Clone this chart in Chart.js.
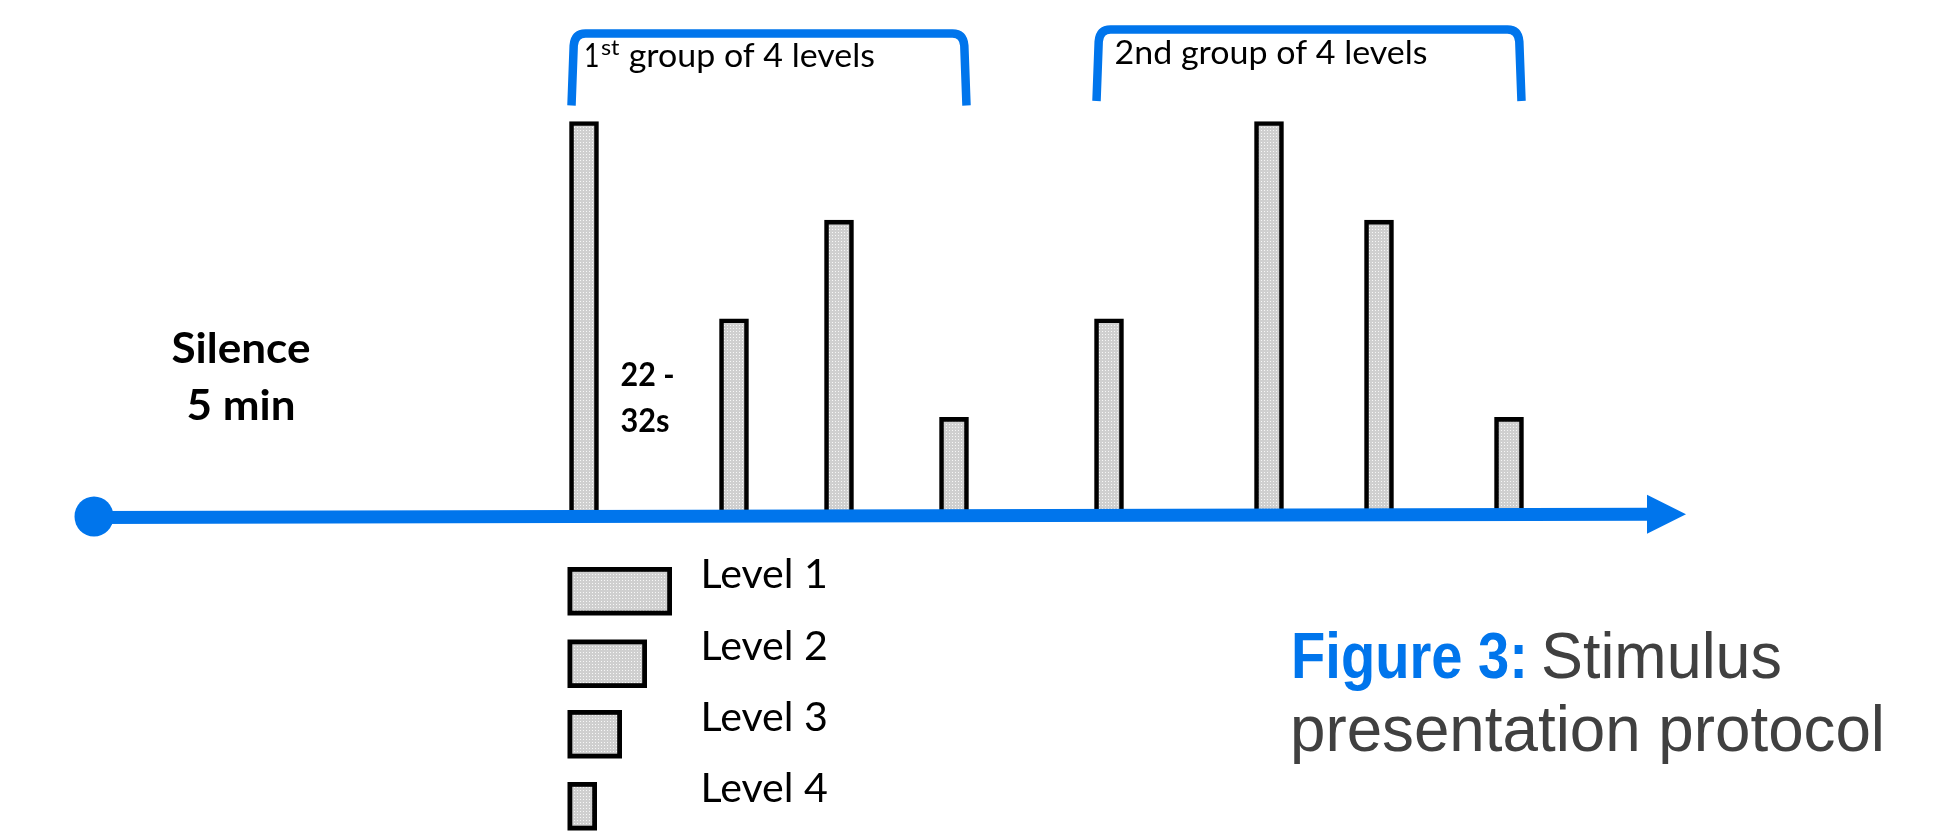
<!DOCTYPE html>
<html>
<head>
<meta charset="utf-8">
<script src="https://cdn.jsdelivr.net/npm/chart.js@4.4.1/dist/chart.umd.min.js"></script>
<style>
  html, body { margin: 0; padding: 0; background: #fff; overflow: hidden; }
  #wrap { width: 1939px; height: 833px; position: relative; }
</style>
</head>
<body>
<div id="wrap"><canvas id="c" width="1939" height="833"></canvas></div>
<script>
// Stimulus onsets in seconds, relative to the first stimulus (ISI 22-32 s)
const onsets = [0, 30, 51, 74, 105, 137, 159, 185];
// Level presented at each onset (1 = loudest)
const stimulusLevels = [1, 3, 2, 4, 3, 1, 2, 4];
// Relative intensity drawn for each level
const levelNames = ['Level 1', 'Level 2', 'Level 3', 'Level 4'];
const levelIntensity = [4, 3, 2, 1];
// Grouping of the stimuli
const groupNames = [['1', 'st', ' group of 4 levels'], ['2nd group of 4 levels']];
const groupMembers = [[0, 1, 2, 3], [4, 5, 6, 7]];
// Timeline extent (s): baseline silence before the first stimulus, end of run
const timeRange = [-98, 220.4];
const silenceText = ['Silence', '5 min'];
const isiText = ['22 -', '32s'];
const captionHead = 'Figure 3:';
const captionBody = ['Stimulus', 'presentation protocol'];

const BLUE = '#0075EC';
const INK = '#000000';
const GREY_TEXT = '#404040';
const LABEL_FONT = 'Lato, "Open Sans", sans-serif';
const CAPTION_FONT = '"Liberation Sans", Arial, sans-serif';

const canvas = document.getElementById('c');
const ctx = canvas.getContext('2d');

// Dotted light-grey fill used by the bars and the legend swatches
function makeDotPattern() {
  const tile = document.createElement('canvas');
  tile.width = 3; tile.height = 3;
  const g = tile.getContext('2d');
  g.fillStyle = '#cfcfcf';
  g.fillRect(0, 0, 3, 3);
  g.fillStyle = '#f7f7f7';
  g.fillRect(1, 1, 1, 1);
  return ctx.createPattern(tile, 'repeat');
}
const dotFill = makeDotPattern();

// Draw text squeezed/stretched horizontally to a given width
function fitText(g, text, x, y, o) {
  g.save();
  g.font = `${o.weight || 'normal'} ${o.size}px ${o.family}`;
  g.fillStyle = o.color || INK;
  g.textAlign = 'left';
  g.textBaseline = 'alphabetic';
  const w = g.measureText(text).width;
  const sx = o.width ? o.width / w : 1;
  let left = x;
  if (o.align === 'center') left = x - (w * sx) / 2;
  g.translate(left, y);
  g.scale(sx, 1);
  g.fillText(text, 0, 0);
  g.restore();
  return w * sx;
}

const protocolPlugin = {
  id: 'protocol',
  afterDatasetsDraw(chart) {
    const g = chart.ctx;
    const xs = chart.scales.x, ys = chart.scales.y;
    const x0 = xs.getPixelForValue(timeRange[0]);
    const x1 = xs.getPixelForValue(timeRange[1]);
    const yBase = ys.getPixelForValue(0);

    // Timeline: start dot, shaft and arrow head
    const head = 39, halfHead = 19.5;
    const yStart = yBase + 1.5, yEnd = yBase - 1.8;
    g.save();
    g.strokeStyle = BLUE;
    g.fillStyle = BLUE;
    g.lineWidth = 13;
    g.lineCap = 'butt';
    g.beginPath();
    g.moveTo(x0, yStart);
    g.lineTo(x1 - head + 1, yEnd);
    g.stroke();
    g.beginPath();
    g.ellipse(x0, yStart - 1, 19.5, 20, 0, 0, Math.PI * 2);
    g.fill();
    g.beginPath();
    g.moveTo(x1 - head, yEnd - halfHead);
    g.lineTo(x1, yEnd);
    g.lineTo(x1 - head, yEnd + halfHead);
    g.closePath();
    g.fill();
    g.restore();
  },
  afterDraw(chart) {
    const g = chart.ctx;
    const bars = chart.getDatasetMeta(0).data;

    // Group brackets above the bars
    const bracketTop = [33.5, 29.5];
    const bracketBottom = [105.5, 101];
    g.save();
    g.strokeStyle = BLUE;
    g.lineWidth = 8.5;
    g.lineJoin = 'round';
    groupMembers.forEach((members, gi) => {
      const first = bars[members[0]], last = bars[members[members.length - 1]];
      const xl = first.x - first.width / 2 + 2;
      const xr = last.x + last.width / 2 - 2;
      const yt = bracketTop[gi], yb = bracketBottom[gi];
      g.beginPath();
      g.moveTo(xl, yb);
      g.lineTo(xl + 2.2, yt + 12);
      g.quadraticCurveTo(xl + 3.2, yt, xl + 14, yt);
      g.lineTo(xr - 14, yt);
      g.quadraticCurveTo(xr - 3.2, yt, xr - 2.2, yt + 12);
      g.lineTo(xr, yb);
      g.stroke();
    });
    g.restore();

    // Group titles
    {
      const parts = groupNames[0];
      let x = 584;
      x += fitText(g, parts[0], x, 66.5, { size: 33, family: LABEL_FONT, width: 15.5 });
      x += 1.5;
      x += fitText(g, parts[1], x, 54.5, { size: 22, family: LABEL_FONT, width: 18.5 });
      fitText(g, parts[2], x + 0.5, 66.5, { size: 33, family: LABEL_FONT, width: 255 });
    }
    fitText(g, groupNames[1][0], 1114.5, 63.5, { size: 33, family: LABEL_FONT, width: 313 });

    // Baseline silence and inter-stimulus interval notes
    fitText(g, silenceText[0], 241, 362.5, { size: 42, weight: 'bold', family: LABEL_FONT, width: 139, align: 'center' });
    fitText(g, silenceText[1], 241, 419.5, { size: 42, weight: 'bold', family: LABEL_FONT, width: 109, align: 'center' });
    fitText(g, isiText[0], 620.5, 386, { size: 32, weight: 'bold', family: LABEL_FONT, width: 54 });
    fitText(g, isiText[1], 620.5, 432, { size: 32, weight: 'bold', family: LABEL_FONT, width: 49 });

    // Legend: swatch width follows the level's intensity
    const swLeft = 567.5, swH = 48.5, unit = 25, bw = 4.8;
    const swTops = [567, 639.5, 710, 782];
    const labelBase = [588, 659.5, 730.5, 801.5];
    levelNames.forEach((name, i) => {
      const w = unit * levelIntensity[i] + 4.5;
      const y = swTops[i];
      g.save();
      g.fillStyle = INK;
      g.fillRect(swLeft, y, w, swH);
      g.fillStyle = dotFill;
      g.fillRect(swLeft + bw, y + bw, w - 2 * bw, swH - 2 * bw);
      g.restore();
      fitText(g, name, 700.5, labelBase[i], { size: 40, family: LABEL_FONT, width: 127.5 });
    });

    // Caption
    const cw = fitText(g, captionHead, 1291, 678, { size: 65, weight: 'bold', family: CAPTION_FONT, color: BLUE, width: 237 });
    fitText(g, captionBody[0], 1291 + cw + 13, 678, { size: 65, family: CAPTION_FONT, color: GREY_TEXT, width: 241 });
    fitText(g, captionBody[1], 1290, 751, { size: 65, family: CAPTION_FONT, color: GREY_TEXT, width: 595 });
  }
};

new Chart(ctx, {
  type: 'bar',
  data: {
    datasets: [{
      data: onsets.map((t, i) => ({ x: t, y: levelIntensity[stimulusLevels[i] - 1] })),
      backgroundColor: dotFill,
      borderColor: INK,
      borderWidth: 4.6,
      borderSkipped: 'start',
      barThickness: 29
    }]
  },
  options: {
    responsive: false,
    animation: false,
    events: [],
    layout: { padding: { left: 94, right: 253, top: 23, bottom: 317 } },
    scales: {
      x: { type: 'linear', min: timeRange[0], max: timeRange[1], offset: false, display: false },
      y: { min: 0, max: 5, display: false }
    },
    plugins: { legend: { display: false }, tooltip: { enabled: false } }
  },
  plugins: [protocolPlugin]
});
</script>
</body>
</html>
